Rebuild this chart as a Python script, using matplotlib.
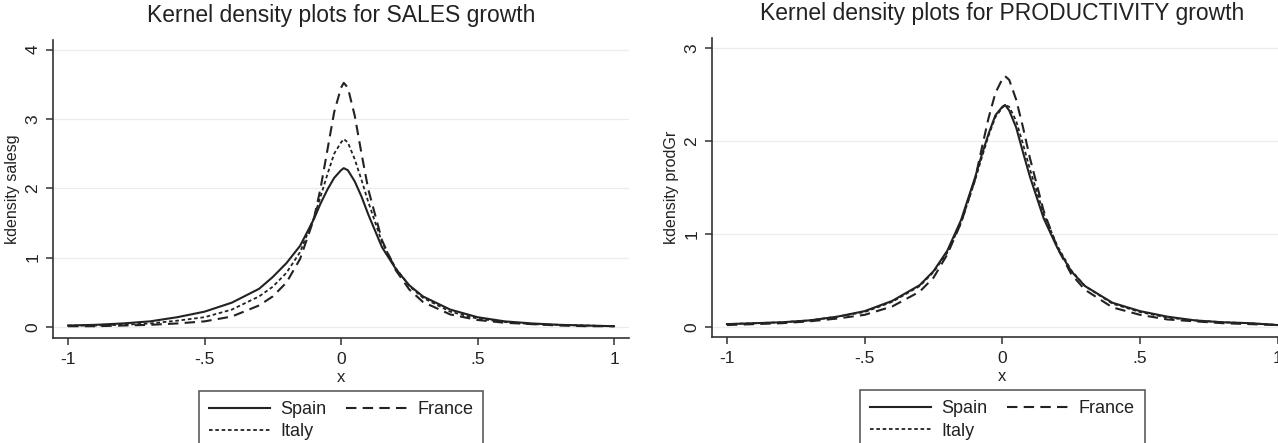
import numpy as np
import matplotlib.pyplot as plt

plt.rcParams["font.family"] = ["Liberation Sans", "DejaVu Sans"]

# ── data ──────────────────────────────────────────────────────
x = [-1, -0.9, -0.8, -0.7, -0.6, -0.5, -0.4, -0.3, -0.25, -0.2, -0.15, -0.1,
     -0.075, -0.05, -0.025, 0, 0.01, 0.025, 0.05, 0.075, 0.1, 0.15, 0.2,
     0.25, 0.3, 0.4, 0.5, 0.6, 0.7, 0.8, 0.9, 1]

sales_spain = [0.02, 0.03, 0.05, 0.08, 0.14, 0.22, 0.35, 0.55, 0.72, 0.92, 1.17, 1.55,
               1.78, 1.98, 2.15, 2.26, 2.29, 2.26, 2.10, 1.88, 1.62, 1.15, 0.84,
               0.60, 0.44, 0.25, 0.14, 0.08, 0.05, 0.03, 0.02, 0.01]
sales_france = [0.01, 0.01, 0.02, 0.03, 0.05, 0.08, 0.15, 0.31, 0.44, 0.64, 0.98, 1.55,
                2.00, 2.55, 3.10, 3.45, 3.52, 3.45, 3.05, 2.50, 1.98, 1.25, 0.82,
                0.54, 0.36, 0.18, 0.10, 0.06, 0.04, 0.02, 0.01, 0.01]
sales_italy = [0.02, 0.02, 0.03, 0.05, 0.09, 0.14, 0.25, 0.44, 0.58, 0.78, 1.08, 1.57,
               1.88, 2.20, 2.50, 2.66, 2.71, 2.66, 2.42, 2.12, 1.80, 1.22, 0.85,
               0.59, 0.42, 0.22, 0.12, 0.07, 0.04, 0.03, 0.02, 0.01]

prod_spain = [0.03, 0.04, 0.05, 0.07, 0.11, 0.17, 0.28, 0.45, 0.60, 0.82, 1.15, 1.60,
              1.85, 2.08, 2.28, 2.37, 2.39, 2.33, 2.15, 1.88, 1.62, 1.17, 0.85,
              0.60, 0.44, 0.26, 0.17, 0.11, 0.07, 0.05, 0.04, 0.02]
prod_france = [0.02, 0.03, 0.04, 0.06, 0.09, 0.13, 0.22, 0.38, 0.53, 0.78, 1.12, 1.58,
               1.92, 2.25, 2.52, 2.67, 2.70, 2.66, 2.45, 2.15, 1.82, 1.25, 0.85,
               0.57, 0.40, 0.21, 0.13, 0.08, 0.06, 0.04, 0.03, 0.02]
prod_italy = [0.03, 0.04, 0.05, 0.07, 0.11, 0.16, 0.27, 0.44, 0.59, 0.80, 1.12, 1.57,
              1.82, 2.06, 2.26, 2.36, 2.39, 2.37, 2.22, 1.97, 1.70, 1.22, 0.87,
              0.61, 0.44, 0.25, 0.16, 0.10, 0.07, 0.05, 0.04, 0.02]

x_ticks = [-1, -0.5, 0, 0.5, 1]
x_ticklabels = ["-1", "-.5", "0", ".5", "1"]

panels = [
    ("Kernel density plots for SALES growth", "kdensity salesg",
     sales_spain, sales_france, sales_italy, [0, 1, 2, 3, 4], (-0.16, 4.14)),
    ("Kernel density plots for PRODUCTIVITY growth", "kdensity prodGr",
     prod_spain, prod_france, prod_italy, [0, 1, 2, 3], (-0.11, 3.11)),
]

# ── figure ─────────────────────────────────────────────────────
fig = plt.figure(figsize=(12.78, 4.43), dpi=100)
positions = [[0.0415, 0.237, 0.4507, 0.673], [0.557, 0.239, 0.4546, 0.675]]
ink = "#222222"

for pos, (title, ylab, spain, france, italy, yt, ylim) in zip(positions, panels):
    ax = fig.add_axes(pos)
    ax.plot(x, spain, color=ink, lw=1.5, label="Spain")
    ax.plot(x, italy, color=ink, lw=1.3, linestyle=(0, (2, 1.5)), label="Italy")
    ax.plot(x, france, color=ink, lw=1.5, linestyle=(0, (5, 3)), label="France")

    ax.set_xlim(-1.055, 1.055)
    ax.set_ylim(*ylim)
    ax.set_xticks(x_ticks)
    ax.set_xticklabels(x_ticklabels)
    ax.set_yticks(yt)
    ax.set_yticklabels([str(v) for v in yt], rotation=90, va="center")
    for v in yt:
        ax.axhline(v, color="#ececec", lw=0.9, zorder=0)

    for s in ("top", "right"):
        ax.spines[s].set_visible(False)
    for s in ("left", "bottom"):
        ax.spines[s].set_color("#333333")
        ax.spines[s].set_linewidth(1.2)
    ax.tick_params(direction="out", length=5, width=1.1, color="#333333",
                   labelsize=12.5, labelcolor=ink)
    ax.tick_params(axis="x", pad=5)
    ax.tick_params(axis="y", pad=4)

    ax.set_title(title, fontsize=16.5, color=ink, pad=13)
    ax.set_xlabel("x", fontsize=12, color=ink, labelpad=2)
    ax.set_ylabel(ylab, fontsize=11.5, color=ink, labelpad=4)

    leg = ax.legend(loc="upper center", bbox_to_anchor=(0.5, -0.178), ncol=2,
                    fontsize=13, frameon=True, fancybox=False,
                    handlelength=3.4, handletextpad=0.55, columnspacing=1.1,
                    borderpad=0.55, labelspacing=0.3, borderaxespad=0)
    leg.get_frame().set_edgecolor("#333333")
    leg.get_frame().set_linewidth(1.2)
    for t in leg.get_texts():
        t.set_color(ink)

fig.savefig("out.png", dpi=100)
